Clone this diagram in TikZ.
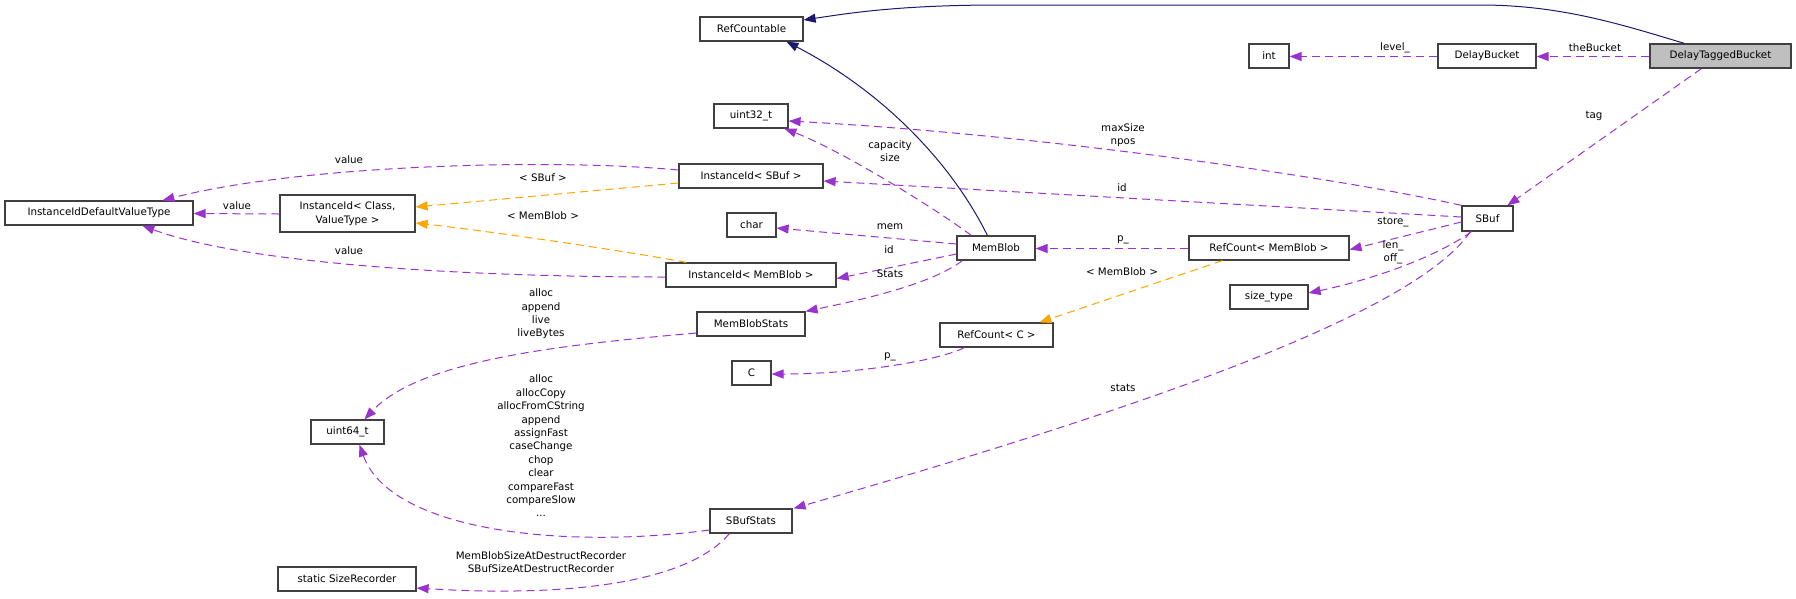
\documentclass[tikz,border=0pt]{standalone}
\usepackage{fontspec}
\setmainfont{DejaVu Sans}
\usetikzlibrary{arrows.meta}
\definecolor{usecol}{HTML}{9A32CD}
\definecolor{tplcol}{HTML}{FFA500}
\definecolor{inhcol}{HTML}{191970}
\definecolor{boxcol}{HTML}{404040}
\definecolor{curcol}{HTML}{BFBFBF}
\tikzset{
  cls/.style={draw=boxcol, line width=1.2pt, rectangle, inner sep=0pt, fill=white,
    font=\fontsize{10.3}{13.4}\selectfont, align=center, text=black},
  lbl/.style={inner sep=0pt, font=\fontsize{10.3}{13.4}\selectfont, align=center, text=black},
  usage/.style={draw=usecol, line width=1pt, dash pattern=on 8pt off 5pt, arrows={-{Triangle[length=12pt,width=9pt,fill=usecol]}}},
  tmpl/.style={draw=tplcol, line width=1pt, dash pattern=on 8pt off 5pt, arrows={-{Triangle[length=12pt,width=9pt,fill=tplcol]}}},
  inh/.style={draw=inhcol, line width=1pt, arrows={-{Triangle[length=12pt,width=9pt,fill=inhcol]}}},
}
\begin{document}
\begin{tikzpicture}[x=1pt,y=-1pt]
\useasboundingbox (0,0) rectangle (1796,598);
% classes
\node[cls, minimum width=188pt, minimum height=24pt] (iidvt) at (99,213) {InstanceIdDefaultValueType};
\node[cls, minimum width=135pt, minimum height=37pt] (iicv) at (347.5,213.5) {InstanceId\textless{} Class,\\ValueType \textgreater};
\node[cls, minimum width=103pt, minimum height=24pt] (rc) at (751.5,29) {RefCountable};
\node[cls, minimum width=74pt, minimum height=24pt] (u32) at (751,116) {uint32\_t};
\node[cls, minimum width=144pt, minimum height=24pt] (isb) at (751,176) {InstanceId\textless{} SBuf \textgreater};
\node[cls, minimum width=49pt, minimum height=24pt] (chr) at (751.5,225) {char};
\node[cls, minimum width=170pt, minimum height=24pt] (imb) at (751,275) {InstanceId\textless{} MemBlob \textgreater};
\node[cls, minimum width=108pt, minimum height=24pt] (mbs) at (751,324) {MemBlobStats};
\node[cls, minimum width=39pt, minimum height=24pt] (cc) at (751.5,373) {C};
\node[cls, minimum width=73pt, minimum height=24pt] (u64) at (347.5,432) {uint64\_t};
\node[cls, minimum width=82pt, minimum height=24pt] (sbs) at (751,521) {SBufStats};
\node[cls, minimum width=138pt, minimum height=24pt] (ssr) at (347,579) {static SizeRecorder};
\node[cls, minimum width=78pt, minimum height=24pt] (mb) at (996,248) {MemBlob};
\node[cls, minimum width=160pt, minimum height=24pt] (rcm) at (1269,248) {RefCount\textless{} MemBlob \textgreater};
\node[cls, minimum width=113pt, minimum height=24pt] (rcc) at (996.5,335) {RefCount\textless{} C \textgreater};
\node[cls, minimum width=78pt, minimum height=24pt] (st) at (1269,297) {size\_type};
\node[cls, minimum width=40pt, minimum height=24pt] (int) at (1269,56) {int};
\node[cls, minimum width=98pt, minimum height=24pt] (db) at (1487,56) {DelayBucket};
\node[cls, minimum width=141pt, minimum height=24pt, fill=curcol] (dtb) at (1720.5,56) {DelayTaggedBucket};
\node[cls, minimum width=51pt, minimum height=25pt] (sbuf) at (1487.5,218.5) {SBuf};

% inheritance
\draw[inh] ([shift={(35,0)}]dtb.north west) .. controls (1620,24) and (1560,5) .. (1480,5) -- (1000,5) .. controls (900,5) and (850,13) .. ([shift={(0,-9)}]rc.east);
\draw[inh] ([shift={(31,0)}]mb.north west) .. controls (950,160) and (880,90) .. ([shift={(87,0)}]rc.south west);

% usage
\draw[usage] ([shift={(0,0.5)}]dtb.west) -- ([shift={(0,0.5)}]db.east);
\node[lbl] (l1) at (1595,48) {theBucket};
\draw[usage] ([shift={(0,0.5)}]db.west) -- ([shift={(0,0.5)}]int.east);
\node[lbl] (l2) at (1395,48) {level\_};
\draw[usage] ([shift={(52,0)}]dtb.south west) -- ([shift={(46,0)}]sbuf.north west);
\node[lbl] (l3) at (1594,116) {tag};
\draw[usage] (sbuf.north west) .. controls (1350,180) and (1050,135) .. ([shift={(0,5)}]u32.east);
\node[lbl] (l4) at (1123,135) {maxSize\\npos};
\draw[usage] ([shift={(0,-1.5)}]sbuf.west) -- ([shift={(0,5)}]isb.east);
\node[lbl] (l5) at (1122,188) {id};
\draw[usage] ([shift={(0,3.5)}]sbuf.west) -- ([shift={(0,-11)}]rcm.south east);
\node[lbl] (l6) at (1393,222) {store\_};
\draw[usage] ([shift={(10,0)}]sbuf.south west) .. controls (1435,258) and (1370,280) .. ([shift={(0,-4)}]st.east);
\node[lbl] (l7) at (1393,252) {len\_\\off\_};
\draw[usage] ([shift={(9,0)}]sbuf.south west) .. controls (1410,320) and (1100,420) .. ([shift={(1,0)}]sbs.north east);
\node[lbl] (l8) at (1123,388) {stats};
\draw[usage] ([shift={(0,0.5)}]rcm.west) -- ([shift={(0,0.5)}]mb.east);
\node[lbl] (l9) at (1123,240) {p\_};
\draw[tmpl] ([shift={(34,0)}]rcm.south west) -- ([shift={(100,0)}]rcc.north west);
\node[lbl] (l10) at (1122,272) {\textless{} MemBlob \textgreater};
\draw[usage] ([shift={(25,0)}]rcc.south west) .. controls (940,360) and (860,374) .. ([shift={(0,1)}]cc.east);
\node[lbl] (l11) at (890,357) {p\_};
\draw[usage] ([shift={(15,0)}]mb.north west) .. controls (930,205) and (840,150) .. ([shift={(71,0)}]u32.south west);
\node[lbl] (l12) at (890,151) {capacity\\size};
\draw[usage] ([shift={(0,-4)}]mb.west) -- ([shift={(0,3)}]chr.east);
\node[lbl] (l13) at (890,227) {mem};
\draw[usage] ([shift={(0,6)}]mb.west) -- ([shift={(0,-9)}]imb.south east);
\node[lbl] (l14) at (889,250) {id};
\draw[usage] ([shift={(6,0)}]mb.south west) .. controls (930,285) and (860,300) .. (mbs.north east);
\node[lbl] (l15) at (890,274) {Stats};
\draw[usage] ([shift={(0,-6)}]isb.west) .. controls (550,158) and (300,165) .. ([shift={(158,0)}]iidvt.north west);
\node[lbl] (l16) at (349,160) {value};
\draw[usage] ([shift={(0,0.5)}]iicv.west) -- ([shift={(0,0.5)}]iidvt.east);
\node[lbl] (l17) at (237,206) {value};
\draw[usage] ([shift={(0,2)}]imb.west) .. controls (450,277) and (240,262) .. ([shift={(138,0)}]iidvt.south west);
\node[lbl] (l18) at (349,251) {value};
\draw[tmpl] ([shift={(0,7)}]isb.west) -- ([shift={(0,-6.5)}]iicv.east);
\node[lbl] (l19) at (543,178) {\textless{} SBuf \textgreater};
\draw[tmpl] ([shift={(21,0)}]imb.north west) .. controls (620,250) and (480,230) .. ([shift={(0,9.5)}]iicv.east);
\node[lbl] (l20) at (543,216) {\textless{} MemBlob \textgreater};
\draw[usage] ([shift={(0,9)}]mbs.west) .. controls (560,345) and (420,360) .. ([shift={(54,0)}]u64.north west);
\node[lbl] (l21) at (541,314) {alloc\\append\\live\\liveBytes};
\draw[usage] ([shift={(0,9)}]sbs.west) .. controls (560,550) and (390,530) .. ([shift={(49,0)}]u64.south west);
\node[lbl] (l22) at (541,446) {alloc\\allocCopy\\allocFromCString\\append\\assignFast\\caseChange\\chop\\clear\\compareFast\\compareSlow\\...};
\draw[usage] ([shift={(20,0)}]sbs.south west) .. controls (690,580) and (580,598) .. ([shift={(0,9)}]ssr.east);
\node[lbl] (l23) at (541,562) {MemBlobSizeAtDestructRecorder\\SBufSizeAtDestructRecorder};
\end{tikzpicture}
\end{document}
